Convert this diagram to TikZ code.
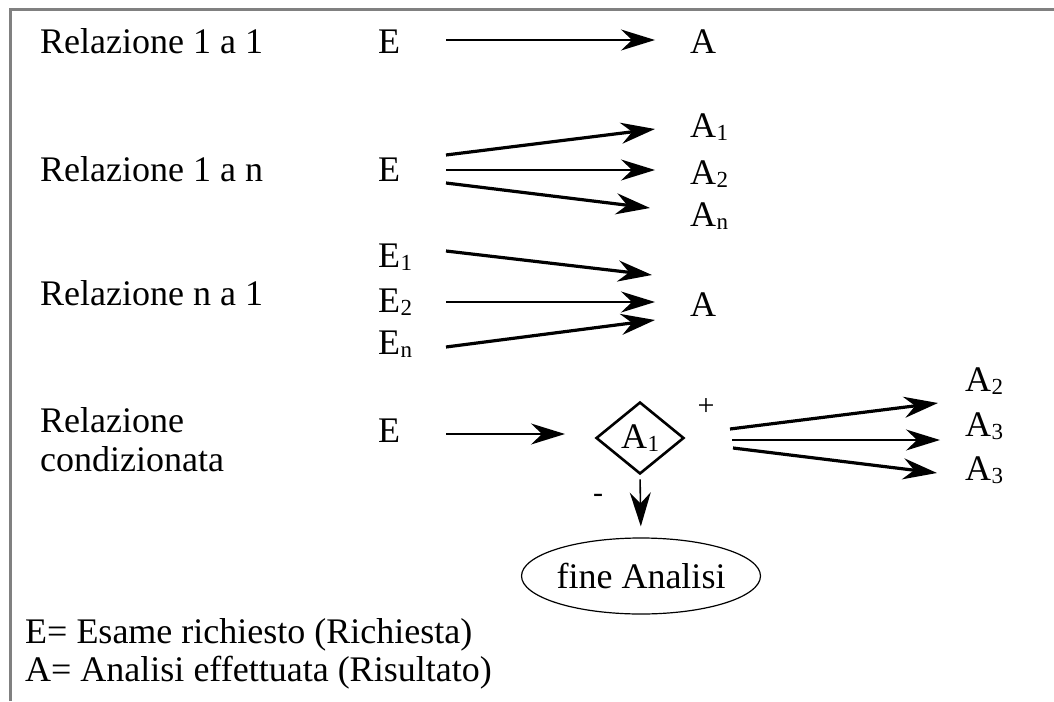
\documentclass[tikz,border=0pt]{standalone}
\usepackage{fontspec}
\setmainfont{Liberation Serif}
\usetikzlibrary{arrows.meta,shapes.geometric}

% small lowered index after a letter (A1, E2, An ...)
\newcommand\idx[1]{\kern0.5pt\raisebox{-3pt}{\fontsize{23}{23}\selectfont #1}}

\begin{document}
\begin{tikzpicture}[x=1pt,y=-1pt,
  txt/.style={anchor=base west, inner sep=0pt, font=\fontsize{36}{40}\selectfont},
  tipshape/.style={-{Stealth[length=34pt,width=21pt,inset=11pt]}},
  thinarrow/.style={tipshape, line width=1.6pt},
  thickarrow/.style={tipshape, line width=3.2pt},
  frame/.style={draw=black!50, line width=3pt}]

\useasboundingbox (0,0) rectangle (1054,701);

% open frame (left and top sides)
\draw[frame] (10.5,701) -- (10.5,10) -- (1054,10);

% --- 1 to 1 ---
\node[txt] (r1) at (40,53) {Relazione 1 a 1};
\node[txt] (e1) at (378,53) {E};
\node[txt] (a1) at (690,53) {A};
\coordinate (s1) at (446,40);
\coordinate (t1) at (655,40);
\draw[thinarrow] (s1) -- (t1);

% --- 1 to n ---
\node[txt] (r2) at (40,181) {Relazione 1 a n};
\node[txt] (e2) at (378,181) {E};
\node[txt] (a2a) at (690,137) {A\idx{1}};
\node[txt] (a2b) at (690,184) {A\idx{2}};
\node[txt] (a2n) at (690,226) {A\idx{n}};
\coordinate (s2a) at (446,155);
\coordinate (t2a) at (655,129);
\coordinate (s2b) at (446,170);
\coordinate (t2b) at (655,170);
\coordinate (s2n) at (446,183);
\coordinate (t2n) at (650,208);
\draw[thickarrow] (s2a) -- (t2a);
\draw[thinarrow]  (s2b) -- (t2b);
\draw[thickarrow] (s2n) -- (t2n);

% --- n to 1 ---
\node[txt] (r3) at (40,305) {Relazione n a 1};
\node[txt] (e3a) at (378,267) {E\idx{1}};
\node[txt] (e3b) at (378,312) {E\idx{2}};
\node[txt] (e3n) at (378,354) {E\idx{n}};
\node[txt] (a3) at (690,316) {A};
\coordinate (s3a) at (446,251);
\coordinate (t3a) at (652,275);
\coordinate (s3b) at (446,302);
\coordinate (t3b) at (655,302);
\coordinate (s3n) at (446,347);
\coordinate (t3n) at (655,320);
\draw[thickarrow] (s3a) -- (t3a);
\draw[thinarrow]  (s3b) -- (t3b);
\draw[thickarrow] (s3n) -- (t3n);

% --- conditional relation ---
\node[txt] (r4a) at (40,432) {Relazione};
\node[txt] (r4b) at (40,471) {condizionata};
\node[txt] (e4) at (378,442) {E};
\node[draw, diamond, line width=2.6pt, inner sep=0pt,
      minimum width=88pt, minimum height=72pt,
      font=\fontsize{36}{40}\selectfont] (d) at (640,438) {A\idx{1}};
\node[font=\fontsize{30}{32}\selectfont, inner sep=0pt] (plus) at (706,407) {+};
\node[font=\fontsize{30}{32}\selectfont, inner sep=0pt] (minus) at (598,498) {-};
\node[draw, ellipse, line width=1.2pt, inner sep=0pt,
      minimum width=236pt, minimum height=76pt,
      font=\fontsize{36}{40}\selectfont] (fine) at (641,576) {fine Analisi};
\node[txt] (a4a) at (965,391) {A\idx{2}};
\node[txt] (a4b) at (965,436) {A\idx{3}};
\node[txt] (a4c) at (965,480) {A\idx{3}};

\coordinate (s4) at (446,434);
\coordinate (t4) at (565,434);
\draw[thinarrow] (s4) -- (t4);
\draw[thinarrow, shorten <=4pt, shorten >=11pt] (d.south) -- (fine.north);
\coordinate (s4a) at (730,429);
\coordinate (t4a) at (938,403);
\coordinate (s4b) at (732,440);
\coordinate (t4b) at (940,440);
\coordinate (s4c) at (733,448);
\coordinate (t4c) at (937,473);
\draw[thickarrow] (s4a) -- (t4a);
\draw[thinarrow]  (s4b) -- (t4b);
\draw[thickarrow] (s4c) -- (t4c);

% --- legend ---
\node[txt] (k1) at (25,643) {E= Esame richiesto (Richiesta)};
\node[txt] (k2) at (25,681) {A= Analisi effettuata (Risultato)};
\end{tikzpicture}
\end{document}
